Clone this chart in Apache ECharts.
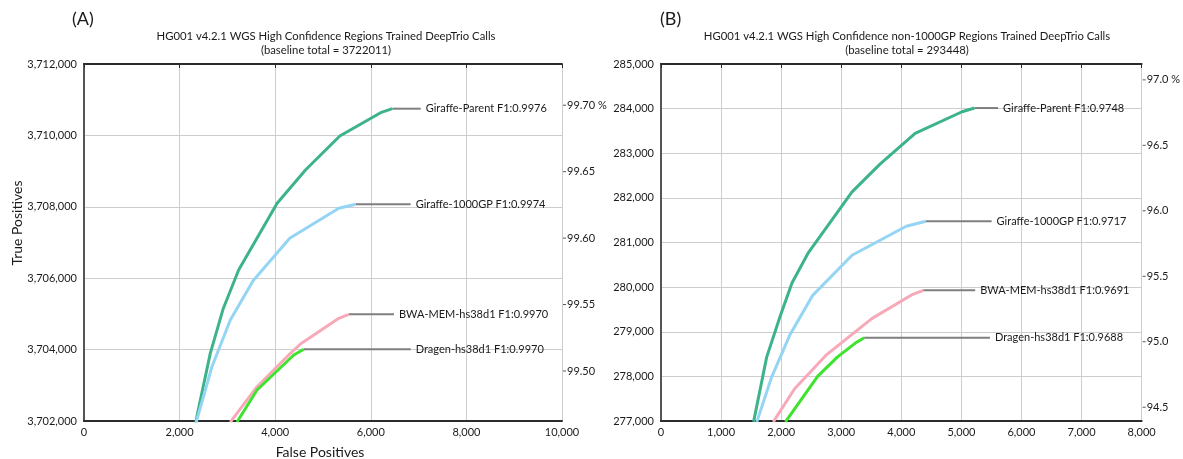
<!DOCTYPE html>
<html><head><meta charset="utf-8">
<script src="https://cdn.jsdelivr.net/npm/echarts@6/dist/echarts.min.js"></script>
<style>html,body{margin:0;padding:0;background:#fff}#c{width:1183px;height:459px}</style>
</head><body><div id="c"></div>
<script>
// ---------- data ----------
const seriesNames = ['Giraffe-Parent', 'Giraffe-1000GP', 'BWA-MEM-hs38d1', 'Dragen-hs38d1'];
const f1A = ['0.9976', '0.9974', '0.9970', '0.9970'];
const f1B = ['0.9748', '0.9717', '0.9691', '0.9688'];
const baselineA = 3722011;
const baselineB = 293448;

// Panel A: false positives / true positives
const fpA_parent = [2340, 2375, 2642, 2908, 3235, 4040, 4633, 5352, 6205, 6451];
const tpA_parent = [3701950, 3702216, 3703896, 3705129, 3706230, 3708098, 3709031, 3709983, 3710636, 3710748];
const fpA_1000gp = [2348, 2677, 3061, 3537, 4304, 5331, 5681];
const tpA_1000gp = [3701970, 3703521, 3704829, 3705930, 3707118, 3707958, 3708070];
const fpA_bwa = [3061, 3620, 4319, 4528, 5331, 5541];
const tpA_bwa = [3701970, 3702961, 3703896, 3704157, 3704877, 3704989];
const fpA_dragen = [3201, 3620, 4388, 4598];
const tpA_dragen = [3701970, 3702868, 3703849, 3704008];
const labelFpA = [7044, 6834, 6485, 6834];

// Panel B
const fpB_parent = [1541, 1759, 1979, 2180, 2454, 3180, 3645, 4230, 5011, 5218];
const tpB_parent = [276980, 278432, 279329, 280093, 280775, 282135, 282756, 283445, 283930, 284013];
const fpB_1000gp = [1595, 1841, 2142, 2525, 3180, 4082, 4410];
const tpB_1000gp = [276980, 277983, 278919, 279816, 280714, 281365, 281477];
const fpB_bwa = [1869, 2224, 2743, 3508, 4191, 4366];
const tpB_bwa = [276980, 277723, 278470, 279294, 279839, 279929];
const fpB_dragen = [2071, 2607, 2934, 3234, 3382];
const tpB_dragen = [276980, 277999, 278432, 278746, 278867];
const labelFpB = [5611, 5503, 5230, 5475];

// axis ranges / ticks
const xRangeA = [0, 10000], xStepA = 2000;
const yRangeA = [3702000, 3712000], yStepA = 2000;
const xRangeB = [0, 8000], xStepB = 1000;
const yRangeB = [277000, 285000], yStepB = 1000;
const pctTicksA = [99.50, 99.55, 99.60, 99.65, 99.70];
const pctTicksB = [94.5, 95.0, 95.5, 96.0, 96.5, 97.0];

const titleA = 'HG001 v4.2.1 WGS High Confidence Regions Trained DeepTrio Calls';
const subA = '(baseline total = 3722011)';
const titleB = 'HG001 v4.2.1 WGS High Confidence non-1000GP Regions Trained DeepTrio Calls';
const subB = '(baseline total = 293448)';

// ---------- styling ----------
const colors = ['#3db38c', '#93d5f3', '#f8a9b9', '#3de32c'];
const FONT = 'Lato';
const TXT = '#1a1a1a';

const zip = (a, b) => a.map((v, i) => [v, b[i]]);
const panelA = [zip(fpA_parent, tpA_parent), zip(fpA_1000gp, tpA_1000gp), zip(fpA_bwa, tpA_bwa), zip(fpA_dragen, tpA_dragen)];
const panelB = [zip(fpB_parent, tpB_parent), zip(fpB_1000gp, tpB_1000gp), zip(fpB_bwa, tpB_bwa), zip(fpB_dragen, tpB_dragen)];

const fmt = v => Math.round(v).toLocaleString('en-US');

function curveSeries(data, idx, axisIdx) {
  return {
    type: 'line', xAxisIndex: axisIdx, yAxisIndex: axisIdx, data: data,
    symbol: 'none', clip: true, silent: true,
    lineStyle: { color: colors[idx], width: 3 }, z: 3 + idx
  };
}
function connectorSeries(data, idx, axisIdx, labelFp, f1) {
  const last = data[data.length - 1];
  return {
    type: 'line', xAxisIndex: axisIdx, yAxisIndex: axisIdx,
    data: [last, [labelFp, last[1]]], symbol: 'none', silent: true,
    lineStyle: { color: '#7f7f7f', width: 2 }, z: 2,
    endLabel: { show: true, formatter: seriesNames[idx] + ' F1:' + f1, distance: 5,
      color: TXT, fontFamily: FONT, fontSize: 11 }
  };
}

const series = [];
panelA.forEach((d, i) => series.push(connectorSeries(d, i, 0, labelFpA[i], f1A[i])));
panelB.forEach((d, i) => series.push(connectorSeries(d, i, 1, labelFpB[i], f1B[i])));
panelA.forEach((d, i) => series.push(curveSeries(d, i, 0)));
panelB.forEach((d, i) => series.push(curveSeries(d, i, 1)));

const darkLine = { show: true, lineStyle: { color: '#2b2b2b', width: 2 } };
const labelStyle = { color: TXT, fontFamily: FONT, fontSize: 11 };
const splitStyle = { show: true, lineStyle: { color: '#cdcdcd', width: 1 } };

function bottomX(gi, range, step) {
  return { type: 'value', gridIndex: gi, position: 'bottom', min: range[0], max: range[1], interval: step,
    axisLine: darkLine, axisTick: { show: false },
    axisLabel: Object.assign({ formatter: fmt, margin: 6 }, labelStyle), splitLine: splitStyle };
}
function topX(gi, range, step) {
  return { type: 'value', gridIndex: gi, position: 'top', min: range[0], max: range[1], interval: step,
    axisLine: darkLine, axisTick: { show: true, inside: true, length: 4, lineStyle: { color: '#2b2b2b', width: 1 } },
    axisLabel: { show: false }, splitLine: { show: false } };
}
function leftY(gi, range, step) {
  return { type: 'value', gridIndex: gi, position: 'left', min: range[0], max: range[1], interval: step,
    axisLine: darkLine, axisTick: { show: false },
    axisLabel: Object.assign({ formatter: fmt, margin: 7 }, labelStyle), splitLine: splitStyle };
}
function rightY(gi, range, base, ticks, dec) {
  const top = ticks[ticks.length - 1];
  return { type: 'value', gridIndex: gi, position: 'right',
    min: range[0] / base * 100, max: range[1] / base * 100,
    axisLine: { show: true, lineStyle: { color: '#555', width: 2 } },
    axisTick: { show: false },
    axisLabel: Object.assign({ customValues: ticks, margin: 1,
      formatter: v => '{t|}{s|}' + (Math.abs(v - top) < 1e-9 ? v.toFixed(dec) + ' %' : v.toFixed(dec)),
      rich: {
        t: { width: 3, height: 1, backgroundColor: '#555' },
        s: { width: 1 }
      } }, labelStyle),
    splitLine: { show: false } };
}

const option = {
  animation: false,
  backgroundColor: '#fff',
  grid: [
    { left: 84, top: 64, width: 478, height: 357 },
    { left: 661, top: 64, width: 488, height: 357 }
  ],
  xAxis: [ bottomX(0, xRangeA, xStepA), bottomX(1, xRangeB, xStepB), topX(0, xRangeA, xStepA), topX(1, xRangeB, xStepB) ],
  yAxis: [ leftY(0, yRangeA, yStepA), leftY(1, yRangeB, yStepB),
           rightY(0, yRangeA, baselineA, pctTicksA, 2), rightY(1, yRangeB, baselineB, pctTicksB, 1) ],
  series: series,
  graphic: [
    { type: 'text', left: 72, top: 10, style: { text: '(A)', font: '18px ' + FONT, fill: TXT } },
    { type: 'text', left: 660, top: 10, style: { text: '(B)', font: '18px ' + FONT, fill: TXT } },
    { type: 'text', x: 326, y: 36, style: { text: titleA, font: '11.3px ' + FONT, fill: TXT, align: 'center', verticalAlign: 'middle' } },
    { type: 'text', x: 326, y: 50, style: { text: subA, font: '11.3px ' + FONT, fill: TXT, align: 'center', verticalAlign: 'middle' } },
    { type: 'text', x: 907, y: 36, style: { text: titleB, font: '11.3px ' + FONT, fill: TXT, align: 'center', verticalAlign: 'middle' } },
    { type: 'text', x: 907, y: 50, style: { text: subB, font: '11.3px ' + FONT, fill: TXT, align: 'center', verticalAlign: 'middle' } },
    { type: 'text', x: 320, y: 452, style: { text: 'False Positives', font: '14px ' + FONT, fill: TXT, align: 'center', verticalAlign: 'middle' } },
    { type: 'text', x: 17, y: 223, rotation: Math.PI / 2, style: { text: 'True Positives', font: '14px ' + FONT, fill: TXT, align: 'center', verticalAlign: 'middle' } }
  ]
};
const chart = echarts.init(document.getElementById('c'), null, { renderer: 'canvas' });
chart.setOption(option);
</script></body></html>
